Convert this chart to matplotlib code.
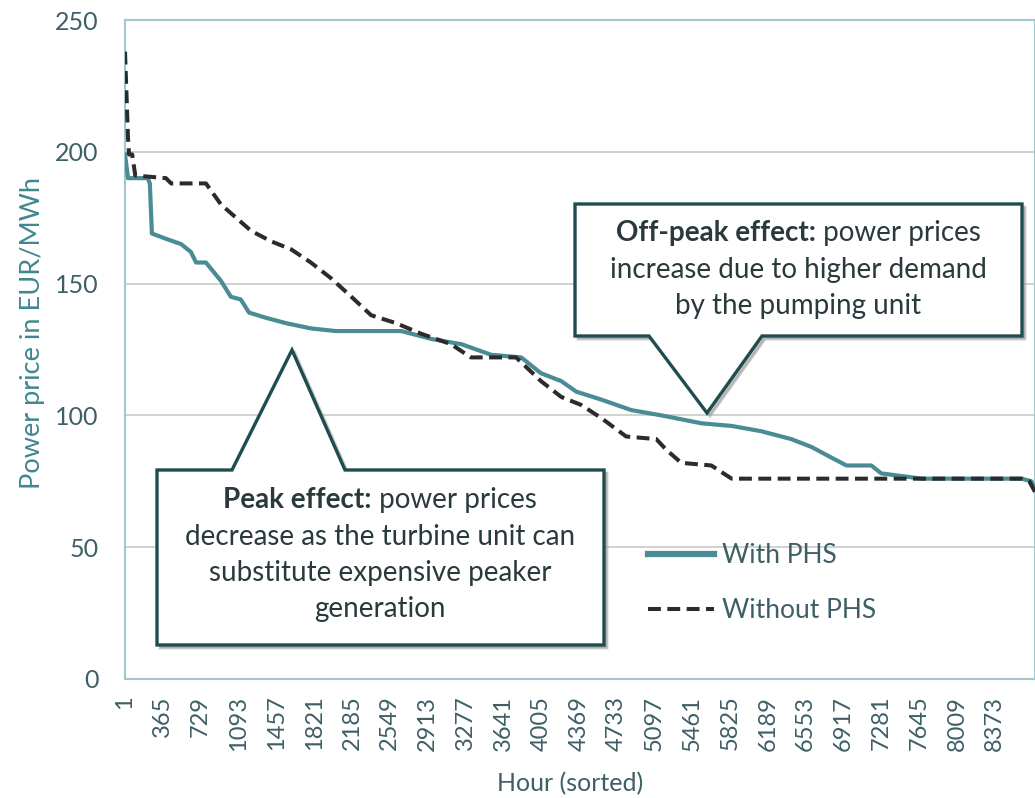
import matplotlib.pyplot as plt
from matplotlib.patches import Polygon
from matplotlib.transforms import offset_copy

# price duration curves (hour, EUR/MWh)
hours_with = [1, 30, 220, 240, 260, 395, 540, 635, 685, 780, 925, 1020, 1115, 1195,
              1360, 1550, 1790, 2030, 2660, 2950, 3240, 3525, 3815, 4005, 4200, 4345,
              4585, 4875, 5165, 5550, 5840, 6125, 6415, 6610, 6800, 6945, 7185, 7280,
              7475, 7670, 8630, 8725, 8760]
price_with = [199, 190, 190, 188, 169, 167, 165, 162, 158, 158, 151, 145, 144, 139,
              137, 135, 133, 132, 132, 129, 127, 123, 122, 116, 113, 109,
              106, 102, 100, 97, 96, 94, 91, 88, 84, 81, 81, 78,
              77, 76, 76, 75, 72]

hours_without = [1, 30, 40, 70, 100, 395, 445, 780, 925, 1070, 1215, 1410, 1600, 1790,
                 1985, 2180, 2370, 2610, 2850, 3140, 3330, 3765, 4005, 4200, 4390, 4585,
                 4825, 5115, 5210, 5355, 5645, 5840, 8630, 8705, 8760]
price_without = [238, 205, 199, 199, 191, 190, 188, 188, 180, 175, 170, 166, 163, 158,
                 152, 145, 138, 135, 131, 127, 122, 122, 113, 107, 104, 99,
                 92, 91, 87, 82, 81, 76, 76, 75, 71]

x_ticks = list(range(1, 8400, 364))
y_ticks = [0, 50, 100, 150, 200, 250]

series_names = ['With PHS', 'Without PHS']
peak_bold = 'Peak effect:'
peak_lines = [' power prices', 'decrease as the turbine unit can',
              'substitute expensive peaker', 'generation']
offpeak_bold = 'Off-peak effect:'
offpeak_lines = [' power prices', 'increase due to higher demand',
                 'by the pumping unit']

TEAL = '#4a8b95'
TICKCOL = '#3e5f66'
BORDER = '#1f4c4f'
TXT = '#2a3a3c'
plt.rcParams['font.family'] = ['Lato', 'DejaVu Sans']

W, H = 1035, 798
fig = plt.figure(figsize=(W / 100, H / 100), dpi=100)
L, R, T, B = 125, 1035, 20, 679
ax = fig.add_axes([L / W, (H - B) / H, (R - L) / W, (B - T) / H])


def af(x, y):
    # pixel position in the picture -> axes fraction
    return ((x - L) / (R - L), (B - y) / (B - T))


ax.plot(hours_with, price_with, color=TEAL, lw=3.0, label=series_names[0], zorder=3)
ax.plot(hours_without, price_without, color='#2b2b2b', lw=2.9, ls=(0, (3.2, 1.6)),
        label=series_names[1], zorder=3)

ax.set_xlim(1, 8760)
ax.set_ylim(0, 250)
ax.set_xticks(x_ticks)
ax.set_xticklabels([str(t) for t in x_ticks], rotation=90, fontsize=17, color=TICKCOL)
ax.set_yticks(y_ticks)
ax.set_yticklabels([str(t) for t in y_ticks], fontsize=18, color=TICKCOL)
ax.tick_params(axis='both', length=0)
ax.tick_params(axis='y', pad=19)
ax.tick_params(axis='x', pad=12)
ax.grid(axis='y', color='#c9c9c9', lw=1.2)
ax.set_axisbelow(True)
for s in ax.spines.values():
    s.set_color('#9fc8cf')
    s.set_linewidth(1.5)

ax.set_ylabel('Power price in EUR/MWh', fontsize=19.5, color='#3f8791')
ax.yaxis.set_label_coords(*af(45, 333))
ax.set_xlabel('Hour (sorted)', fontsize=18, color=TICKCOL)
ax.xaxis.set_label_coords(*af(570, 772))

leg = ax.legend(loc='upper left', bbox_to_anchor=af(648, 543), frameon=False,
                fontsize=19, handlelength=2.5, handletextpad=0.3, labelspacing=1.15,
                borderpad=0, borderaxespad=0)
for t in leg.get_texts():
    t.set_color(TICKCOL)
leg.get_lines()[0].set_linewidth(4.5)

# callout boxes with pointer
peak_poly = [(157, 470), (232, 470), (292, 350), (345, 470), (604, 470), (604, 645), (157, 645)]
off_poly = [(575, 204), (1022, 204), (1022, 336), (762, 336), (707, 413), (649, 336), (575, 336)]
for poly in (peak_poly, off_poly):
    pts = [af(x, y) for x, y in poly]
    shadow = Polygon(pts, closed=True, facecolor='#9a9a9a', edgecolor='#9a9a9a', lw=2,
                     alpha=0.55, zorder=4,
                     transform=offset_copy(ax.transAxes, fig=fig, x=3, y=-3, units='dots'))
    ax.add_patch(shadow)
    ax.add_patch(Polygon(pts, closed=True, facecolor='white', edgecolor=BORDER, lw=2.4,
                         joinstyle='miter', zorder=5, transform=ax.transAxes))

fig.canvas.draw()
rend = fig.canvas.get_renderer()


def callout_text(cx, ys, bold, lines):
    # first line mixes a bold lead-in with regular text, centred together
    b = ax.text(0, 0, bold, fontsize=20, fontweight='bold', color=TXT,
                transform=ax.transAxes, va='center', ha='left', zorder=6)
    n = ax.text(0, 0, lines[0], fontsize=20, color=TXT,
                transform=ax.transAxes, va='center', ha='left', zorder=6)
    wb = b.get_window_extent(rend).width
    wn = n.get_window_extent(rend).width
    x0 = cx - (wb + wn) / 2
    b.set_position(af(x0, ys[0]))
    n.set_position(af(x0 + wb, ys[0]))
    for line, y in zip(lines[1:], ys[1:]):
        ax.text(*af(cx, y), line, fontsize=20, color=TXT, transform=ax.transAxes,
                va='center', ha='center', zorder=6)


callout_text(380, [500, 537, 573, 609], peak_bold, peak_lines)
callout_text(798, [233, 270, 306], offpeak_bold, offpeak_lines)

fig.savefig('out.png', dpi=100)
